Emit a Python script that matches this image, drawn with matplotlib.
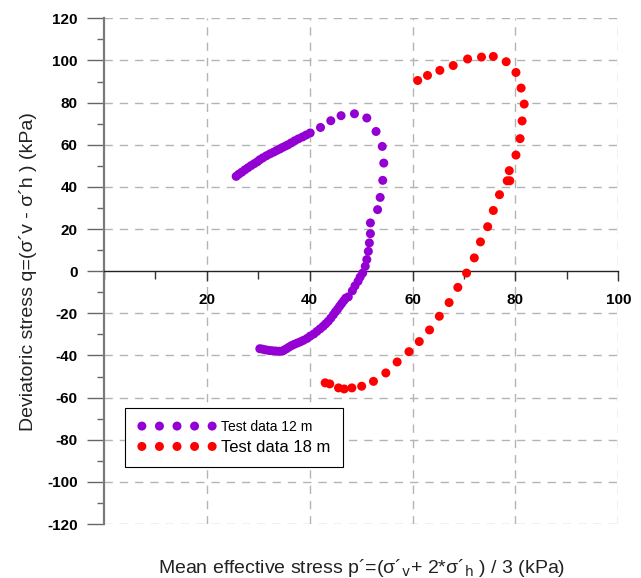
import numpy as np
import matplotlib.pyplot as plt
from matplotlib.ticker import MultipleLocator

plt.rcParams['font.family'] = ['Liberation Sans', 'DejaVu Sans']
plt.rcParams['axes.unicode_minus'] = False

# Test data 12 m  (p', q)
p12 = [25.7, 26.2, 26.8, 27.4, 28.0, 28.6, 29.2, 29.8, 30.3, 30.9, 31.6, 32.3,
       33.0, 33.6, 34.2, 34.7, 35.3, 35.8, 36.4, 37.1, 37.8, 38.6, 39.3, 40.1,
       42.1, 44.1, 46.1, 48.7, 51.1, 52.9, 54.1, 54.4, 54.2, 53.7, 53.2, 51.8,
       51.8, 51.6, 51.4, 51.1, 50.8, 50.3, 49.8, 49.4, 48.8, 48.3, 47.5,
       47.0, 46.6, 46.2, 45.8, 45.4, 45.0, 44.6, 44.1, 43.6, 43.1, 42.6, 42.0,
       41.4, 40.8, 40.1, 39.5, 38.8, 38.2, 37.6, 37.0, 36.5, 36.0, 35.5, 35.0,
       34.6, 34.0, 33.4, 32.8, 32.3, 31.8, 31.3, 30.8, 30.3]
q12 = [45.0, 46.0, 47.0, 48.1, 49.1, 50.1, 51.0, 51.9, 52.9, 53.8, 54.8, 55.7,
       56.5, 57.3, 58.0, 58.7, 59.4, 60.0, 60.9, 61.9, 62.8, 63.7, 64.6, 65.6,
       68.2, 71.4, 73.8, 74.7, 72.7, 66.3, 59.2, 51.3, 43.1, 35.0, 29.2, 22.9,
       17.8, 13.4, 9.4, 5.5, 2.3, -0.9, -2.8, -4.8, -7.0, -9.3, -12.2,
       -12.8, -14.1, -15.4, -16.7, -18.1, -19.3, -20.7, -22.3, -23.8, -25.0,
       -26.2, -27.4, -28.6, -29.8, -30.8, -31.9, -32.8, -33.5, -34.1, -34.7,
       -35.3, -36.0, -36.8, -37.5, -38.0, -38.0, -37.9, -37.8, -37.7, -37.5,
       -37.3, -37.0, -36.8]

# Test data 18 m
p18 = [61.0, 62.9, 65.3, 67.9, 70.7, 73.4, 75.7, 78.2, 80.1, 81.1, 81.7, 81.3,
       80.9, 80.1, 78.8, 78.9, 78.4, 76.9, 75.7, 74.6, 73.2, 72.0, 70.5, 68.8,
       67.1, 65.2, 63.3, 61.3, 59.3, 57.0, 54.8, 52.4, 50.1, 48.2, 46.7, 45.6,
       43.9, 43.0]
q18 = [90.5, 92.9, 95.3, 97.6, 100.7, 101.6, 101.9, 99.4, 94.3, 86.9, 79.3,
       71.3, 62.9, 55.1, 47.7, 42.9, 42.9, 36.3, 28.8, 21.1, 13.9, 6.3, -0.9,
       -7.7, -14.9, -21.4, -27.9, -33.4, -38.2, -43.1, -48.3, -52.3, -54.6,
       -55.4, -55.9, -55.4, -53.5, -53.0]

xticks = [20, 40, 60, 80, 100]
yticks = list(range(-120, 121, 20))

fig = plt.figure(figsize=(6.41, 5.78), dpi=100)
ax = fig.add_axes([0.1622, 0.0934, 0.8024, 0.8749])

ax.scatter(p12, q12, s=42, color='#9400d3', edgecolors='none', label='Test data 12 m', zorder=3)
ax.scatter(p18, q18, s=42, color='#ff0000', edgecolors='none', label='Test data 18 m', zorder=3)

ax.set_xlim(0, 100)
ax.set_ylim(-120, 120)

# grid as dashed lines (including the outer border at 100 / 120 / -120)
for x in xticks:
    ax.axvline(x, color='#b4b4b4', lw=1, dashes=(6, 5), zorder=1)
for y in yticks:
    if y != 0:
        ax.axhline(y, color='#b4b4b4', lw=1, dashes=(6, 5), zorder=1)

ax.spines['top'].set_visible(False)
ax.spines['right'].set_visible(False)
ax.spines['bottom'].set_position(('data', 0))
ax.spines['bottom'].set_color('#222222')
ax.spines['bottom'].set_linewidth(1)
ax.spines['left'].set_color('#7a7a7a')
ax.spines['left'].set_linewidth(1.6)

ax.set_xticks(xticks)
ax.xaxis.set_minor_locator(MultipleLocator(10))
ax.set_yticks(yticks)
ax.yaxis.set_minor_locator(MultipleLocator(10))
ax.tick_params(axis='x', which='major', direction='out', length=7, width=1, color='#333333', pad=9)
ax.tick_params(axis='x', which='minor', direction='out', length=6, width=1, color='#333333')
ax.tick_params(axis='y', which='major', direction='out', length=12, width=1, color='#666666', pad=7)
ax.tick_params(axis='y', which='minor', direction='out', length=5, width=1, color='#666666')
for lab in ax.get_xticklabels() + ax.get_yticklabels():
    lab.set_fontweight('bold')
    lab.set_fontsize(11)

ax.set_ylabel("Deviatoric stress q=(σ´v - σ´h ) (kPa)", fontsize=14, color='#222222')
ax.yaxis.set_label_coords(-0.131, 0.5)
ax.set_xlabel(r"Mean effective stress p´=(σ´$_{\rm v}$+ 2*σ´$_{\rm h}$ ) / 3 (kPa)",
              fontsize=14, color='#222222')
ax.xaxis.set_label_coords(0.5, -0.066)

leg = ax.legend(loc='upper left', bbox_to_anchor=(0.041, 0.229), borderaxespad=0,
                scatterpoints=5, scatteryoffsets=[0.5], handlelength=5.2, handletextpad=0.3,
                fancybox=False, edgecolor='black', framealpha=1, fontsize=11,
                borderpad=0.8, labelspacing=0.35)
leg.get_frame().set_linewidth(0.8)
leg.get_texts()[0].set_fontsize(10)
leg.get_texts()[1].set_fontsize(12)

fig.savefig('out.png', dpi=100)
